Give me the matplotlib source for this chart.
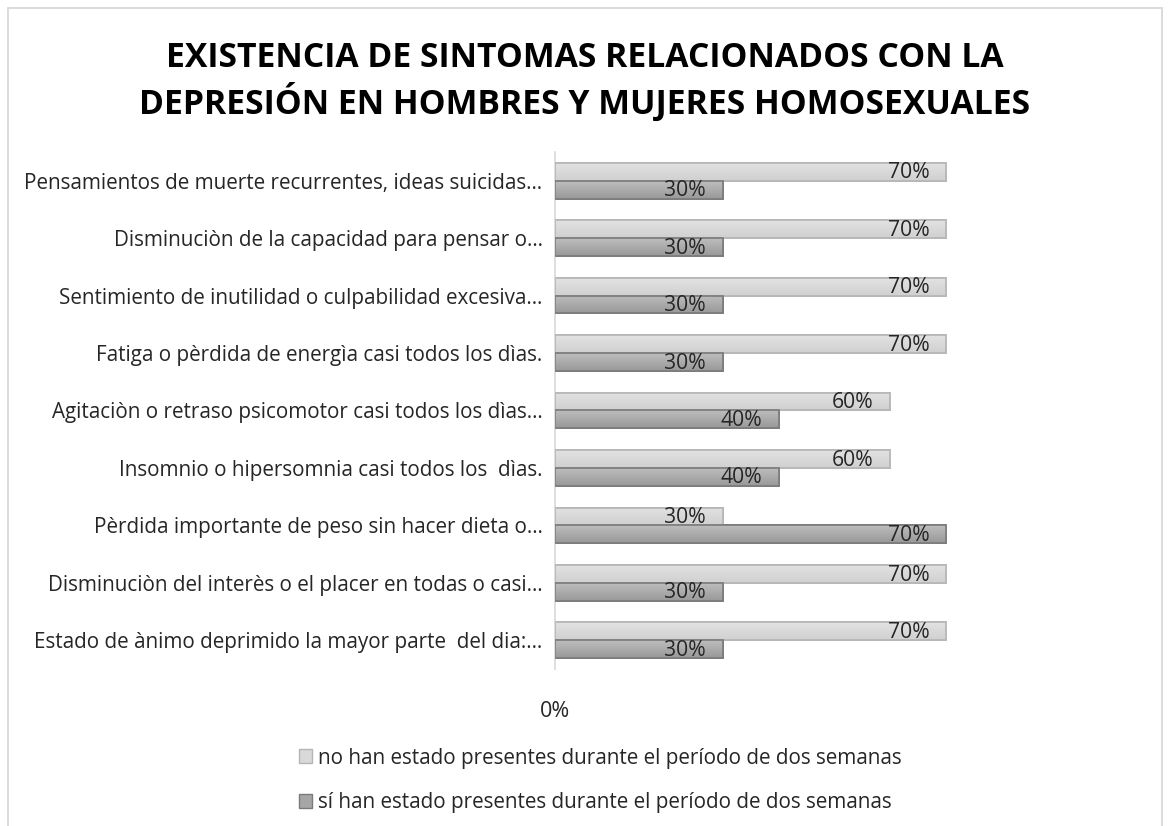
import matplotlib
matplotlib.use("Agg")
import matplotlib.pyplot as plt
import matplotlib.patches as mpatches
import numpy as np

categories = [
    "Pensamientos de muerte recurrentes, ideas suicidas…",
    "Disminuciòn de la capacidad para pensar o…",
    "Sentimiento de inutilidad o culpabilidad excesiva…",
    "Fatiga o pèrdida de energìa casi todos los dìas.",
    "Agitaciòn o retraso psicomotor casi todos los dìas…",
    "Insomnio o hipersomnia casi todos los  dìas.",
    "Pèrdida importante de peso sin hacer dieta o…",
    "Disminuciòn del interès o el placer en todas o casi…",
    "Estado de ànimo deprimido la mayor parte  del dia:…",
]
no_presentes = [0.70, 0.70, 0.70, 0.70, 0.60, 0.60, 0.30, 0.70, 0.70]
si_presentes = [0.30, 0.30, 0.30, 0.30, 0.40, 0.40, 0.70, 0.30, 0.30]
series_labels = [
    "no han estado presentes durante el período de dos semanas",
    "sí han estado presentes durante el período de dos semanas",
]
x_ticks = [0]
x_tick_labels = ["0%"]
title = "EXISTENCIA DE SINTOMAS RELACIONADOS CON LA\nDEPRESIÓN EN HOMBRES Y MUJERES HOMOSEXUALES"

FONT = ["Open Sans", "DejaVu Sans"]
plt.rcParams["font.family"] = FONT

W, H = 1170, 826
fig = plt.figure(figsize=(W / 100, H / 100), dpi=100)

# outer chart border
fig.patches.append(mpatches.Rectangle((8 / W, -0.01), (1162 - 8) / W, 1 - 8 / H + 0.01,
                                      transform=fig.transFigure, fill=False,
                                      edgecolor="#d9d9d9", linewidth=1.3))

ax = fig.add_axes([555 / W, 1 - 669 / H, (1114 - 555) / W, (669 - 152) / H])

y = np.arange(len(categories))
h = 0.31
light_face = "#d9d9d9"
light_edge = "#b5b5b5"
dark_face = "#a6a6a6"
dark_edge = "#7a7a7a"

bars_light = ax.barh(y - h / 2, no_presentes, height=h, color=light_face,
                     edgecolor=light_edge, linewidth=1.2, label=series_labels[0], zorder=2)
bars_dark = ax.barh(y + h / 2, si_presentes, height=h, color=dark_face,
                    edgecolor=dark_edge, linewidth=1.2, label=series_labels[1], zorder=2)

# subtle vertical gradients
def add_gradient(bars, top_col, bot_col):
    grad = np.linspace(0, 1, 64).reshape(-1, 1)
    c0 = np.array(matplotlib.colors.to_rgb(top_col))
    c1 = np.array(matplotlib.colors.to_rgb(bot_col))
    img = c0 + (c1 - c0) * grad[..., None]
    img = np.repeat(img, 2, axis=1)
    for b in bars:
        x0, y0 = b.get_x(), b.get_y()
        w, hh = b.get_width(), b.get_height()
        im = ax.imshow(img, extent=[x0, x0 + w, y0 + hh, y0], aspect="auto",
                       zorder=2.5, interpolation="bilinear")
        im.set_clip_path(b)
        ax.add_patch(mpatches.Rectangle((x0, y0), w, hh, fill=False,
                                        edgecolor=b.get_edgecolor(), linewidth=1.2, zorder=3))

add_gradient(bars_light, "#e2e2e2", "#d0d0d0")
add_gradient(bars_dark, "#bdbdbd", "#999999")

for bars, vals in ((bars_light, no_presentes), (bars_dark, si_presentes)):
    for b, v in zip(bars, vals):
        ax.text(v - 0.03, b.get_y() + b.get_height() / 2 + 0.02, f"{v * 100:.0f}%",
                ha="right", va="center", fontsize=15.2, color="#262626", zorder=4)

ax.set_xlim(0, 1)
ax.set_ylim(len(categories) - 0.5, -0.5)
ax.set_yticks(y)
ax.set_yticklabels(categories, fontsize=14.9, color="#262626")
ax.set_xticks(x_ticks)
ax.set_xticklabels(x_tick_labels, fontsize=15.5, color="#262626")
ax.tick_params(axis="y", length=0, pad=9)
ax.tick_params(axis="x", length=0, pad=23)
for s in ("top", "right", "bottom"):
    ax.spines[s].set_visible(False)
ax.spines["left"].set_color("#d9d9d9")
ax.spines["left"].set_linewidth(1.2)
ax.set_facecolor("none")

fig.text(585 / W, 1 - 81 / H, title, ha="center", va="center", fontsize=24.3,
         fontweight="bold", color="#000000", linespacing=1.25)

handles = [mpatches.Patch(facecolor=light_face, edgecolor=light_edge, label=series_labels[0]),
           mpatches.Patch(facecolor=dark_face, edgecolor=dark_edge, label=series_labels[1])]
fig.legend(handles=handles, loc="upper left", bbox_to_anchor=(280 / W, 1 - 729 / H),
           frameon=False, fontsize=14.9, handlelength=0.65, handleheight=0.65,
           handletextpad=0.3, labelspacing=1.14, labelcolor="#262626")

fig.savefig("out.png", dpi=100)
